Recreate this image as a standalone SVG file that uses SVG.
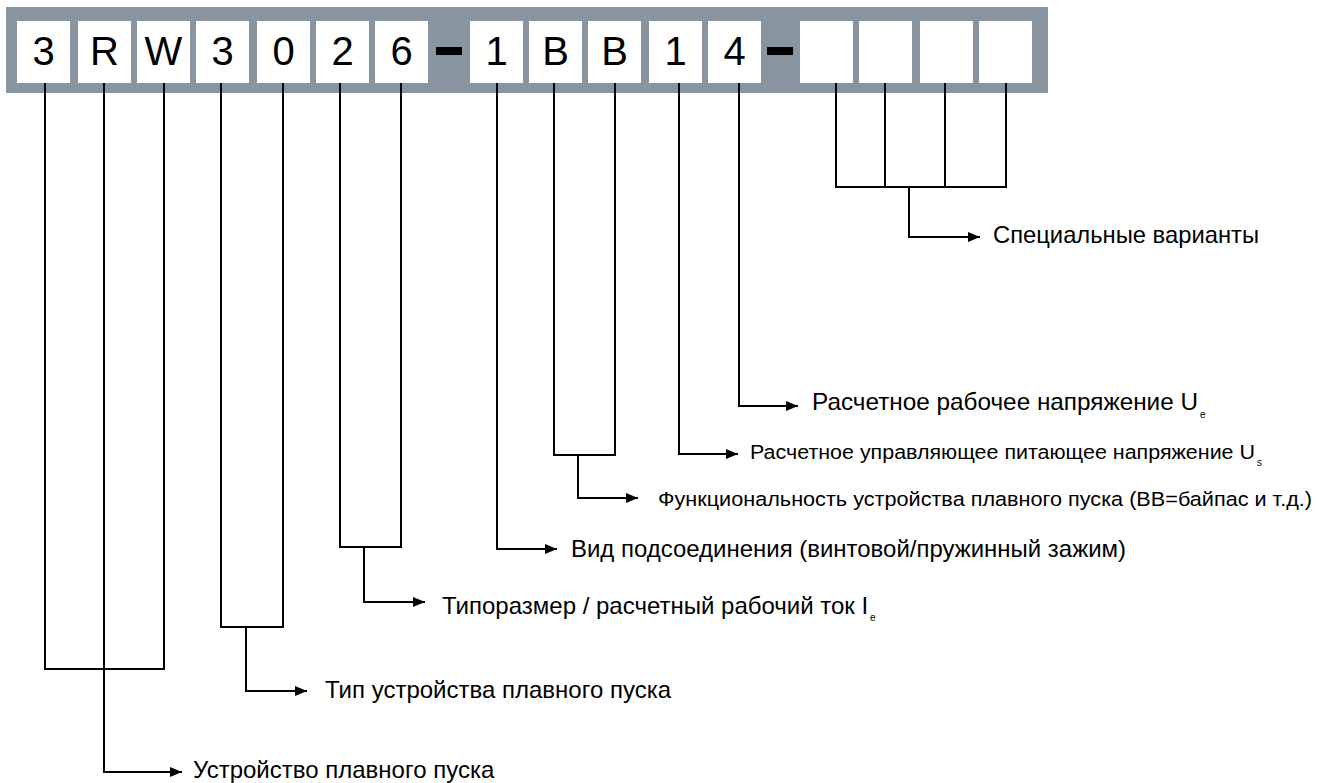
<svg xmlns="http://www.w3.org/2000/svg" width="1317" height="783" viewBox="0 0 1317 783">
<style>
.bar{fill:#8994a1}
.box{fill:#ffffff}
.dash{fill:#000000}
.ch{font-family:"Liberation Sans",Arial,sans-serif;font-size:40px;fill:#000;text-anchor:middle}
.lbl{font-family:"Liberation Sans",Arial,sans-serif;font-size:24px;fill:#000}
.sm{font-family:"Liberation Sans",Arial,sans-serif;font-size:20.5px;fill:#000}
.sub{font-family:"Liberation Sans",Arial,sans-serif;font-size:10px;fill:#000}
.ln{fill:none;stroke:#000;stroke-width:2}
.ar{fill:none;stroke:#000;stroke-width:2;marker-end:url(#ah)}
</style>
<defs>
<marker id="ah" markerUnits="userSpaceOnUse" markerWidth="13" markerHeight="10" refX="12" refY="5" orient="auto">
<path d="M0,0 L12,5 L0,10 z" fill="#000"/>
</marker>
</defs>
<g id="code-bar">
<rect class="bar" x="6" y="7" width="1042" height="86"/>
<rect class="dash" x="436" y="47" width="26" height="8"/>
<rect class="dash" x="767" y="47" width="26" height="8"/>
</g>
<g id="c1"><rect class="box" x="17" y="21" width="53" height="62"/><text class="ch" x="43.5" y="65">3</text></g>
<g id="c2"><rect class="box" x="78" y="21" width="53" height="62"/><text class="ch" x="104.5" y="65">R</text></g>
<g id="c3"><rect class="box" x="137" y="21" width="53" height="62"/><text class="ch" x="163.5" y="65">W</text></g>
<g id="c4"><rect class="box" x="196" y="21" width="53" height="62"/><text class="ch" x="222.5" y="65">3</text></g>
<g id="c5"><rect class="box" x="257" y="21" width="53" height="62"/><text class="ch" x="283.5" y="65">0</text></g>
<g id="c6"><rect class="box" x="316" y="21" width="53" height="62"/><text class="ch" x="342.5" y="65">2</text></g>
<g id="c7"><rect class="box" x="375" y="21" width="53" height="62"/><text class="ch" x="401.5" y="65">6</text></g>
<g id="c8"><rect class="box" x="470" y="21" width="53" height="62"/><text class="ch" x="496.5" y="65">1</text></g>
<g id="c9"><rect class="box" x="529" y="21" width="53" height="62"/><text class="ch" x="555.5" y="65">B</text></g>
<g id="c10"><rect class="box" x="588" y="21" width="53" height="62"/><text class="ch" x="614.5" y="65">B</text></g>
<g id="c11"><rect class="box" x="649" y="21" width="53" height="62"/><text class="ch" x="675.5" y="65">1</text></g>
<g id="c12"><rect class="box" x="708" y="21" width="53" height="62"/><text class="ch" x="734.5" y="65">4</text></g>
<g id="c13"><rect class="box" x="800" y="21" width="53" height="62"/></g>
<g id="c14"><rect class="box" x="859" y="21" width="53" height="62"/></g>
<g id="c15"><rect class="box" x="920" y="21" width="53" height="62"/></g>
<g id="c16"><rect class="box" x="979" y="21" width="53" height="62"/></g>

<g id="connectors">
<path class="ln" d="M45,83 V669 H164 V83"/>
<path class="ar" d="M104,83 V772 H182"/>
<path class="ln" d="M221,83 V627 H283 V83"/>
<path class="ar" d="M246,627 V691 H307"/>
<path class="ln" d="M340,83 V547 H401 V83"/>
<path class="ar" d="M364,547 V602 H425"/>
<path class="ar" d="M497,83 V549 H557"/>
<path class="ln" d="M554,83 V455 H615 V83"/>
<path class="ar" d="M578,455 V498 H638"/>
<path class="ar" d="M679,83 V454 H738"/>
<path class="ar" d="M739,83 V406 H798"/>
<path class="ln" d="M836,83 V187 H1006 V83 M885,83 V187 M945,83 V187"/>
<path class="ar" d="M909,187 V237 H980"/>
</g>

<g id="l-special"><text class="lbl" x="993" y="243" textLength="266" lengthAdjust="spacingAndGlyphs">Специальные варианты</text></g>
<g id="l-ue"><text class="lbl" x="812" y="410" textLength="386" lengthAdjust="spacingAndGlyphs">Расчетное рабочее напряжение U</text><text class="sub" x="1200" y="418">e</text></g>
<g id="l-us"><text class="sm" x="750" y="459" textLength="505" lengthAdjust="spacingAndGlyphs">Расчетное управляющее питающее напряжение U</text><text class="sub" x="1257" y="466">s</text></g>
<g id="l-func"><text class="sm" x="658" y="506" textLength="654" lengthAdjust="spacingAndGlyphs">Функциональность устройства плавного пуска (BB=байпас и т.д.)</text></g>
<g id="l-vid"><text class="lbl" x="571" y="557" textLength="555" lengthAdjust="spacingAndGlyphs">Вид подсоединения (винтовой/пружинный зажим)</text></g>
<g id="l-tipo"><text class="lbl" x="442" y="614">Типоразмер / расчетный рабочий ток I</text><text class="sub" x="870" y="621">e</text></g>
<g id="l-tip"><text class="lbl" x="325" y="698">Тип устройства плавного пуска</text></g>
<g id="l-ustr"><text class="lbl" x="193" y="778">Устройство плавного пуска</text></g>
</svg>
